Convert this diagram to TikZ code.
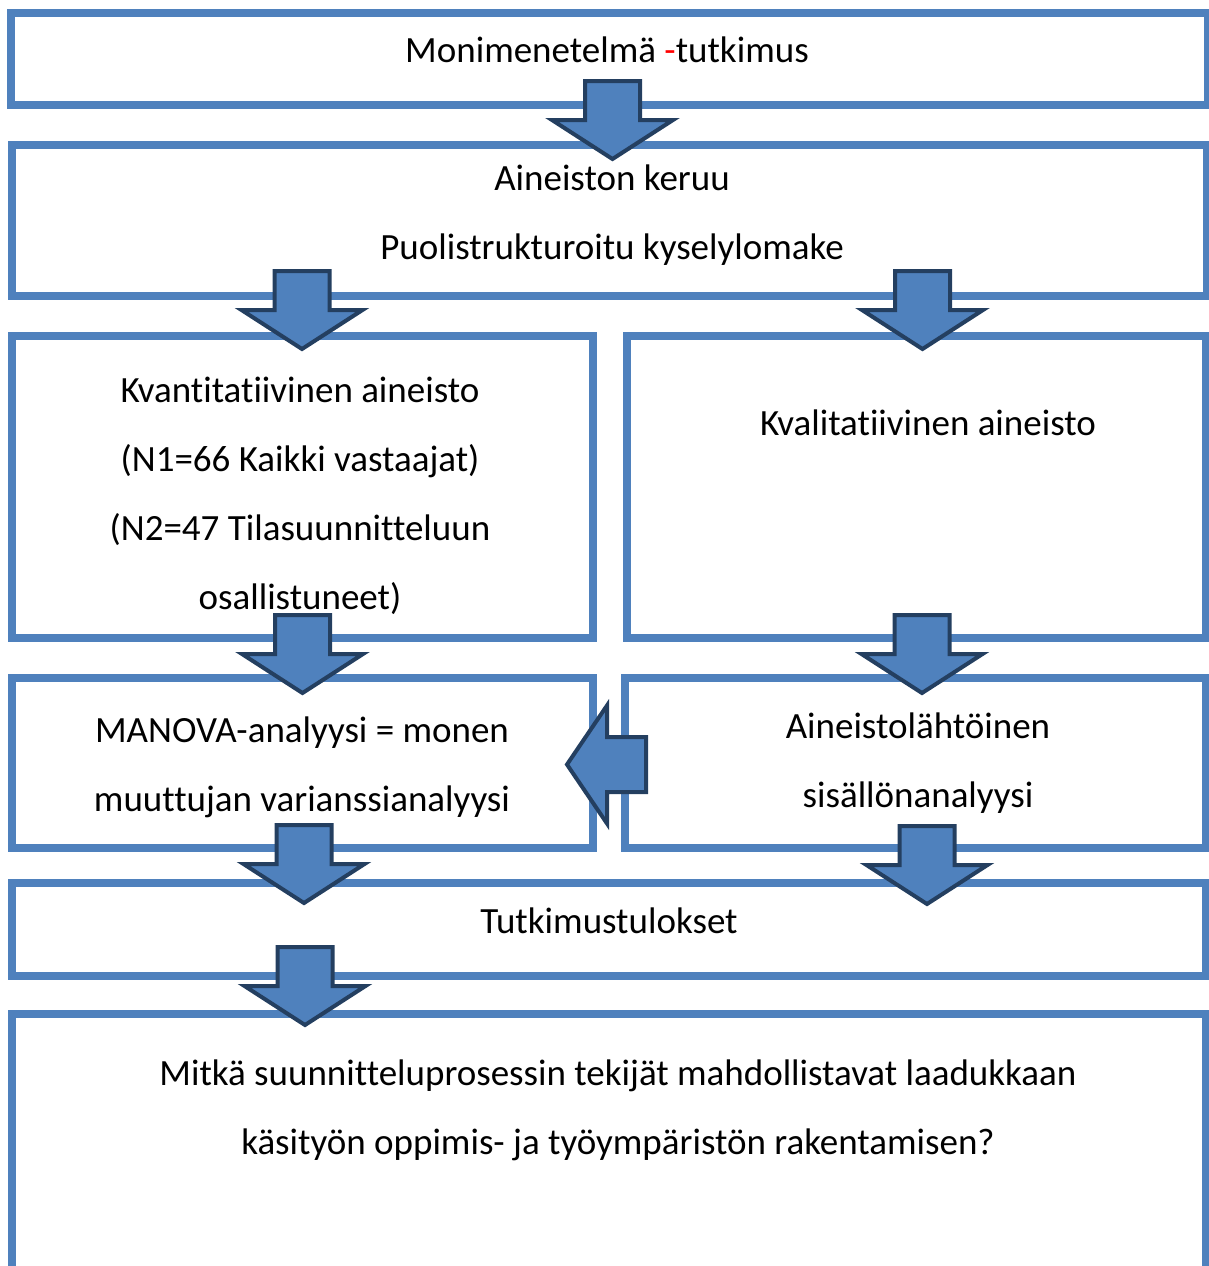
\documentclass[tikz,border=0pt]{standalone}
\usepackage{fontspec}
\setmainfont{Carlito}[Ligatures=NoCommon]
\usetikzlibrary{fit}
\definecolor{boxblue}{RGB}{79,129,189}
\definecolor{arrowdark}{RGB}{36,63,96}

\begin{document}
\begin{tikzpicture}[x=0.5pt,y=-0.5pt,
  box/.style={draw=boxblue,line width=4pt,inner sep=0pt},
  txt/.style={align=center,font=\fontsize{18.5}{34.5}\selectfont},
  blockarrow/.style={fill=boxblue,draw=arrowdark,line width=2pt,line join=miter}]

  \useasboundingbox (0,0) rectangle (1209,1266);
  \clip (0,0) rectangle (1209,1266);

  % boxes
  \node[box,fit={(10.5,12.5)(1208,104.5)}] (method) {};
  \node[box,fit={(11.5,145)(1207,295.5)}] (collect) {};
  \node[box,fit={(11.5,335.5)(592.5,637.5)}] (quant) {};
  \node[box,fit={(626.5,335.5)(1206,637.5)}] (qual) {};
  \node[box,fit={(11.5,678)(592.5,847.5)}] (manova) {};
  \node[box,fit={(625,678)(1206,847.5)}] (content) {};
  \node[box,fit={(11.5,883)(1206,975.5)}] (result) {};
  \node[box,fit={(11.5,1013.5)(1206,1300)}] (question) {};

  % block arrows
  \foreach \x/\y in {612.5/81, 302/271, 922.5/271, 302.5/615, 922/615, 304/825, 927/826, 305/947}
  {
    \filldraw[blockarrow,shift={(\x,\y)}] (-27.5,0) -- (27.5,0) -- (27.5,39) -- (60.5,39)
      -- (0,78) -- (-60.5,39) -- (-27.5,39) -- cycle;
  }
  \filldraw[blockarrow] (567,764.5) -- (607,705.5) -- (607,737) -- (646,737)
    -- (646,792) -- (607,792) -- (607,823.5) -- cycle;

  % texts
  \node[txt] (methodtxt) at (607,50) {Monimenetelmä {\color{red}-}tutkimus};
  \node[txt] (collecttxt) at (612,215.5) {Aineiston keruu\\Puolistrukturoitu kyselylomake};
  \node[txt] (quanttxt) at (300,495.5) {Kvantitatiivinen aineisto\\(N1=66 Kaikki vastaajat)\\(N2=47 Tilasuunnitteluun\\osallistuneet)};
  \node[txt] (qualtxt) at (928,423) {Kvalitatiivinen aineisto};
  \node[txt] (manovatxt) at (302,767) {MANOVA-analyysi = monen\\muuttujan varianssianalyysi};
  \node[txt] (contenttxt) at (918,763.5) {Aineistolähtöinen\\sisällönanalyysi};
  \node[txt] (resulttxt) at (609,921) {Tutkimustulokset};
  \node[txt] (questiontxt) at (618,1110) {Mitkä suunnitteluprosessin tekijät mahdollistavat laadukkaan\\käsityön oppimis- ja työympäristön rakentamisen?};

\end{tikzpicture}
\end{document}
